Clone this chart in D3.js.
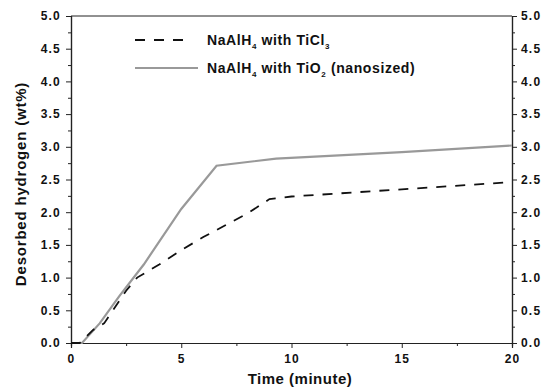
<!DOCTYPE html>
<html>
<head>
    <script src="https://d3js.org/d3.v7.min.js"></script>
    <style>
        body { margin: 0; background: #fff; }
        text { font-family: Arial, "Liberation Sans", sans-serif; font-weight: bold; fill: #111; }
        .axis path, .axis line { stroke: #222; }
        .axis text { font-size: 12px; letter-spacing: 1.2px; }
    </style>
</head>
<body>
<div id="chart"></div>
<script>
    // data
    const tiCl3_time = [0, 0.4, 1.0, 1.5, 2.5, 3.0, 4.0, 5.0, 6.0, 7.0, 8.0, 9.0, 10.0, 15.0, 20.0];
    const tiCl3_h2   = [0, 0, 0.2, 0.3, 0.8, 1.0, 1.2, 1.42, 1.62, 1.8, 1.98, 2.2, 2.24, 2.35, 2.46];

    const tiO2_time = [0, 0.5, 1.3, 2.2, 3.3, 4.0, 5.0, 6.6, 9.3, 15.0, 20.0];
    const tiO2_h2   = [0, 0, 0.3, 0.72, 1.2, 1.55, 2.05, 2.71, 2.82, 2.92, 3.02];

    const x_ticks = [0, 5, 10, 15, 20];
    const y_ticks = [0, 0.5, 1, 1.5, 2, 2.5, 3, 3.5, 4, 4.5, 5];

    const width = 560, height = 389;
    const plot_left = 71, plot_right = 512, plot_top = 16, plot_bottom = 343;

    const svg = d3.select("#chart").append("svg")
        .attr("width", width).attr("height", height);

    const x = d3.scaleLinear().domain([0, 20]).range([plot_left, plot_right]);
    const y = d3.scaleLinear().domain([0, 5]).range([plot_bottom, plot_top]);

    // minor ticks
    const x_minor = d3.range(2.5, 20, 5);
    const y_minor = d3.range(0.25, 5, 0.5);

    svg.append("g").attr("class", "axis")
        .attr("transform", `translate(0,${plot_bottom})`)
        .call(d3.axisBottom(x).tickValues(x_minor).tickSize(3).tickFormat(""));
    svg.append("g").attr("class", "axis")
        .attr("transform", `translate(0,${plot_bottom})`)
        .call(d3.axisBottom(x).tickValues(x_ticks).tickSize(5).tickPadding(6).tickFormat(d3.format("d")));

    svg.append("g").attr("class", "axis")
        .attr("transform", `translate(${plot_left},0)`)
        .call(d3.axisLeft(y).tickValues(y_minor).tickSize(3).tickFormat(""));
    svg.append("g").attr("class", "axis")
        .attr("transform", `translate(${plot_left},0)`)
        .call(d3.axisLeft(y).tickValues(y_ticks).tickSize(5).tickPadding(5).tickFormat(d3.format(".1f")));

    svg.append("g").attr("class", "axis")
        .attr("transform", `translate(${plot_right},0)`)
        .call(d3.axisRight(y).tickValues(y_minor).tickSize(3).tickFormat(""));
    svg.append("g").attr("class", "axis")
        .attr("transform", `translate(${plot_right},0)`)
        .call(d3.axisRight(y).tickValues(y_ticks).tickSize(5).tickPadding(4).tickFormat(d3.format(".1f")));

    // top border
    svg.append("line")
        .attr("x1", plot_left).attr("x2", plot_right)
        .attr("y1", plot_top).attr("y2", plot_top)
        .attr("stroke", "#222");

    svg.selectAll(".axis .domain").attr("stroke-width", 1.2);

    const line = d3.line().x(d => x(d[0])).y(d => y(d[1]));

    svg.append("path")
        .datum(d3.zip(tiO2_time, tiO2_h2))
        .attr("d", line)
        .attr("fill", "none")
        .attr("stroke", "#999")
        .attr("stroke-width", 2.2);

    svg.append("path")
        .datum(d3.zip(tiCl3_time, tiCl3_h2))
        .attr("d", line)
        .attr("fill", "none")
        .attr("stroke", "#111")
        .attr("stroke-width", 1.8)
        .attr("stroke-dasharray", "10,9");

    // legend
    const legend = svg.append("g");
    legend.append("line")
        .attr("x1", 135).attr("x2", 192).attr("y1", 40).attr("y2", 40)
        .attr("stroke", "#111").attr("stroke-width", 1.8).attr("stroke-dasharray", "10,9");
    legend.append("line")
        .attr("x1", 135).attr("x2", 198).attr("y1", 68).attr("y2", 68)
        .attr("stroke", "#999").attr("stroke-width", 2.2);

    const t1 = legend.append("text").attr("x", 207).attr("y", 45)
        .style("font-size", "14px").style("letter-spacing", "0.6px");
    t1.append("tspan").text("NaAlH");
    t1.append("tspan").attr("dy", 4).style("font-size", "8px").text("4");
    t1.append("tspan").attr("dy", -4).text(" with TiCl");
    t1.append("tspan").attr("dy", 4).style("font-size", "8px").text("3");

    const t2 = legend.append("text").attr("x", 207).attr("y", 73)
        .style("font-size", "14px").style("letter-spacing", "0.6px");
    t2.append("tspan").text("NaAlH");
    t2.append("tspan").attr("dy", 4).style("font-size", "8px").text("4");
    t2.append("tspan").attr("dy", -4).text(" with TiO");
    t2.append("tspan").attr("dy", 4).style("font-size", "8px").text("2");
    t2.append("tspan").attr("dy", -4).text(" (nanosized)");

    // axis titles
    svg.append("text")
        .attr("x", 300).attr("y", 384)
        .attr("text-anchor", "middle")
        .style("font-size", "15px").style("letter-spacing", "0.5px")
        .text("Time (minute)");

    svg.append("text")
        .attr("transform", `translate(26,184) rotate(-90)`)
        .attr("text-anchor", "middle")
        .style("font-size", "15px").style("letter-spacing", "0.8px")
        .text("Desorbed hydrogen (wt%)");
</script>
</body>
</html>
